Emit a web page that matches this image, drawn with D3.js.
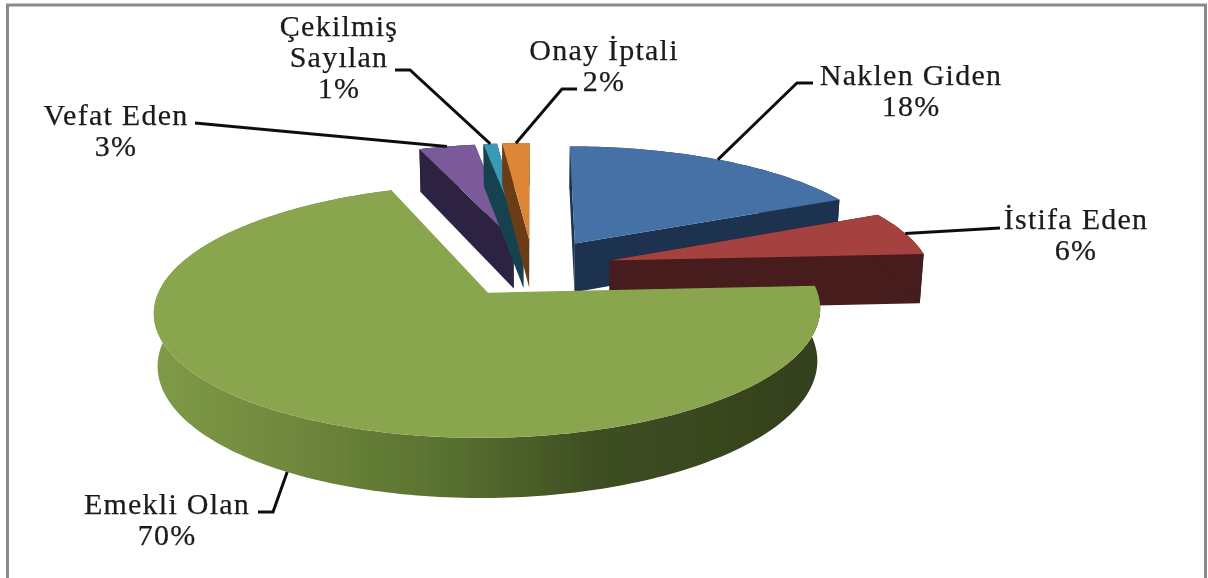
<!DOCTYPE html>
<html>
<head>
<meta charset="utf-8">
<script src="https://cdn.jsdelivr.net/npm/d3@7"></script>
<style>
html, body { margin: 0; padding: 0; background: #fff; overflow: hidden; }
text { font-family: "Liberation Serif", serif; font-size: 30px; letter-spacing: 1.25px; fill: #1a1a1a; stroke: #1a1a1a; stroke-width: 0.25px; text-anchor: middle; }
</style>
</head>
<body>
<div id="chart"></div>
<script>
// data
var labels = ['Naklen Giden', 'İstifa Eden', 'Emekli Olan', 'Vefat Eden', 'Çekilmiş Sayılan', 'Onay İptali'];
var percents = ['18%', '6%', '70%', '3%', '1%', '2%'];
// slice sizes, estimated from the drawn angles (the labels are rounded)
var shares = [18.1, 6.0, 70.2, 3.3, 0.8, 1.6];

// colours, same order as the slices
var topColors = ['#4471a6', '#a5423f', '#89a54e', '#7a5a98', '#3a99b5', '#dd8638'];
var sideColors = ['#1b3150', '#461a1a', '#4f6230', '#2e2242', '#174350', '#6b3d12'];

var width = 1208, height = 578;

var cx = 533, cy = 267.5,   // middle of the unexploded pie
    rx = 320, ry = 117,     // disc radii before perspective
    explode = 0.25,
    persp = 0.14,
    depth = 50,
    shrink = 0.99;          // bottom disc is a bit narrower

var svg = d3.select('#chart').append('svg').attr('width', width).attr('height', height);
var defs = svg.append('defs');

defs.append('filter').attr('id', 'soft')
    .attr('filterUnits', 'userSpaceOnUse')
    .attr('x', 0).attr('y', 0)
    .attr('width', width).attr('height', height)
    .append('feGaussianBlur').attr('stdDeviation', 0.7);

var rimStops = [[155, '#7f9a48'], [320, '#6b843a'], [450, '#57702f'], [590, '#3f4f22'], [822, '#333f1c']];
var rimGrad = defs.append('linearGradient').attr('id', 'rim')
    .attr('gradientUnits', 'userSpaceOnUse')
    .attr('x1', 155).attr('x2', 822).attr('y1', 0).attr('y2', 0);
rimStops.forEach(function(s) {
    rimGrad.append('stop').attr('offset', (s[0] - 155) / (822 - 155)).attr('stop-color', s[1]);
});

var pie = d3.pie().sort(null).startAngle(0).endAngle(2 * Math.PI);
var slices = pie(shares);

// angle + radius on the disc -> screen point, z 0 = top disc, z 1 = bottom disc
function project(d, angle, r, z) {
    var mid = (d.startAngle + d.endAngle) / 2;
    var X = explode * Math.sin(mid) + r * Math.sin(angle);
    var Y = explode * Math.cos(mid) + r * Math.cos(angle);
    var s = 1 / (1 + persp * Y);
    var f = z ? shrink : 1;
    return [cx + rx * X * s * f, cy - ry * Y * s + z * depth * s];
}

function arcAngles(d) {
    var n = Math.max(2, Math.ceil((d.endAngle - d.startAngle) / 0.02));
    return d3.range(n + 1).map(function(i) {
        return d.startAngle + (d.endAngle - d.startAngle) * i / n;
    });
}

var polygon = d3.line().curve(d3.curveLinearClosed);

function topPath(d) {
    var pts = [project(d, 0, 0, 0)];
    arcAngles(d).forEach(function(a) { pts.push(project(d, a, 1, 0)); });
    return polygon(pts);
}

function edgePath(d, angle) {
    return polygon([project(d, angle, 0, 0), project(d, angle, 1, 0), project(d, angle, 1, 1), project(d, angle, 0, 1)]);
}

function rimPath(d) {
    var as = arcAngles(d);
    var pts = as.map(function(a) { return project(d, a, 1, 0); });
    as.slice().reverse().forEach(function(a) { pts.push(project(d, a, 1, 1)); });
    return polygon(pts);
}

var chart = svg.append('g').attr('filter', 'url(#soft)');

// frame
chart.append('rect').attr('x', 7.5).attr('y', 5).attr('width', 1198).attr('height', 590)
    .attr('fill', '#fff').attr('stroke', '#8a8a8a').attr('stroke-width', 3);

// back to front
var drawOrder = [0, 3, 4, 5, 1, 2];
var pieces = chart.selectAll('g.slice').data(drawOrder).enter().append('g').attr('class', 'slice');

pieces.each(function(i) {
    var d = slices[i], g = d3.select(this);
    // green shows only its rim, its cut faces point backwards
    if (i !== 2) {
        g.append('path').attr('d', edgePath(d, d.startAngle)).attr('fill', sideColors[i]);
        g.append('path').attr('d', edgePath(d, d.endAngle)).attr('fill', sideColors[i]);
        g.append('path').attr('d', rimPath(d)).attr('fill', sideColors[i]);
    } else {
        g.append('path').attr('d', rimPath(d)).attr('fill', 'url(#rim)');
    }
    g.append('path').attr('d', topPath(d)).attr('fill', topColors[i]);
});

// label layout: baseline centre of the text, elbow of the leader line, aim = where along the slice the line lands
var labelLayout = [
    { x: 911, y: 85, gap: 31, start: [813, 83], elbow: [797, 83], aim: 0.49, z: 0 },
    { x: 1076, y: 229, gap: 31, start: [1000, 228], aim: 0.5, z: 0 },
    { x: 167, y: 514, gap: 31, start: [258, 512], elbow: [273, 512], aim: 0.494, z: 1 },
    { x: 116, y: 125, gap: 31, start: [195, 123], aim: 0.5, z: 0 },
    { x: 339, y: 36, gap: 31, start: [395, 70], elbow: [410, 70], aim: 0.5, z: 0 },
    { x: 604, y: 60, gap: 31, start: [577, 89], elbow: [562, 89], aim: 0.5, z: 0 }
];

var leader = d3.line();
labelLayout.forEach(function(l, i) {
    var d = slices[i];
    var pts = [l.start];
    if (l.elbow) pts.push(l.elbow);
    pts.push(project(d, d.startAngle + (d.endAngle - d.startAngle) * l.aim, 1, l.z));
    chart.append('path').attr('d', leader(pts)).attr('fill', 'none')
        .attr('stroke', '#111').attr('stroke-width', 3);

    var words = i === 4 ? ['Çekilmiş', 'Sayılan'] : [labels[i]];
    var lines = words.concat([percents[i]]);
    var t = chart.append('text').attr('x', l.x).attr('y', l.y);
    lines.forEach(function(s, k) {
        t.append('tspan').attr('x', l.x).attr('dy', k ? l.gap : 0).text(s);
    });
});
</script>
</body>
</html>
